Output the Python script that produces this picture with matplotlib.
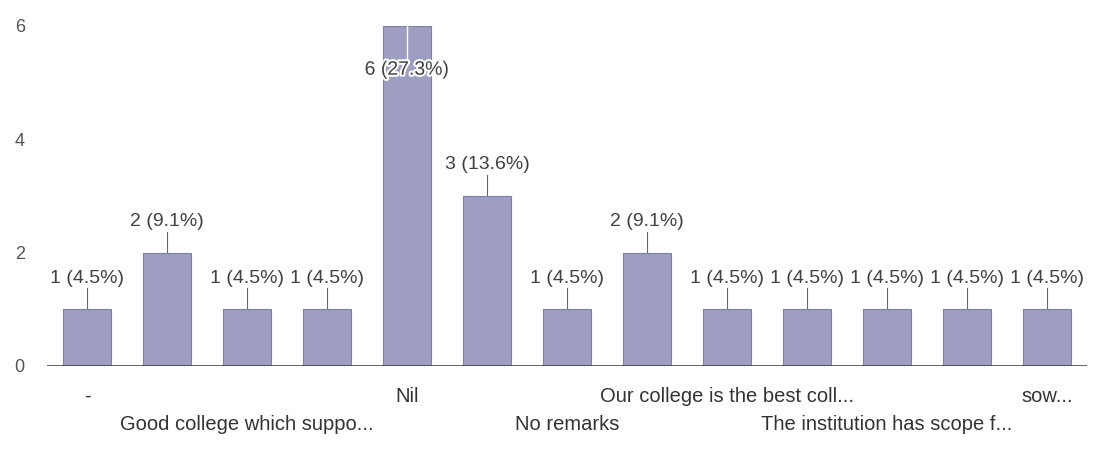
import matplotlib
matplotlib.use("Agg")
import matplotlib.pyplot as plt
import matplotlib.patheffects as pe
from matplotlib.transforms import blended_transform_factory, offset_copy

plt.rcParams["font.family"] = ["Liberation Sans", "DejaVu Sans"]

# ---- data ----
categories = ["-", "", "Good college which suppo...", "", "Nil", "", "No remarks", "",
              "Our college is the best coll...", "", "The institution has scope f...", "", "sow..."]
counts = [1, 2, 1, 1, 6, 3, 1, 2, 1, 1, 1, 1, 1]
percents = [4.5, 9.1, 4.5, 4.5, 27.3, 13.6, 4.5, 9.1, 4.5, 4.5, 4.5, 4.5, 4.5]
yticks = [0, 2, 4, 6]

bar_color = "#9e9ec2"
edge_color = "#7f7fa6"
text_color = "#404040"

fig = plt.figure(figsize=(10.95, 4.59), dpi=100)
ax = fig.add_axes([47 / 1095, 1 - 366 / 459, 1040 / 1095, 340 / 459])

x = list(range(len(counts)))
ax.bar(x, counts, width=0.6, color=bar_color, edgecolor=edge_color, linewidth=0.8, zorder=2)

ax.set_xlim(-0.5, len(counts) - 0.5)
ax.set_ylim(0, 6)
ax.set_yticks(yticks)
ax.set_yticklabels([str(t) for t in yticks], fontsize=13, color="#555555")
ax.tick_params(axis="y", length=0, pad=16)
ax.set_xticks([])
for s in ["top", "right", "left", "bottom"]:
    ax.spines[s].set_visible(False)
ax.axhline(0, color="#444444", linewidth=1.2, zorder=3)

# value labels with leader lines
for xi, c, p in zip(x, counts, percents):
    label = f"{c} ({p}%)"
    if c >= 6:
        ty = c - 0.78
        ax.plot([xi, xi], [c, ty + 0.2], color="white", linewidth=1.0, zorder=4)
        ax.text(xi, ty, label, ha="center", va="center", fontsize=14, color=text_color, zorder=5,
                path_effects=[pe.withStroke(linewidth=3, foreground="white")])
    else:
        ty = c + 0.55
        ax.plot([xi, xi], [c, ty - 0.18], color="#666666", linewidth=0.8, zorder=1)
        ax.text(xi, ty, label, ha="center", va="center", fontsize=14, color=text_color, zorder=5)

# staggered category labels
trans = blended_transform_factory(ax.transData, ax.transAxes)
for xi, lab in zip(x, categories):
    if xi % 2 == 1:
        continue
    off = -30 if (xi // 2) % 2 == 0 else -58
    t = offset_copy(trans, fig=fig, x=0, y=off, units="dots")
    ax.text(xi, 0, lab, transform=t, ha="center", va="center", fontsize=14.5, color="#333333")

fig.savefig("out.png", dpi=100, facecolor="white")
